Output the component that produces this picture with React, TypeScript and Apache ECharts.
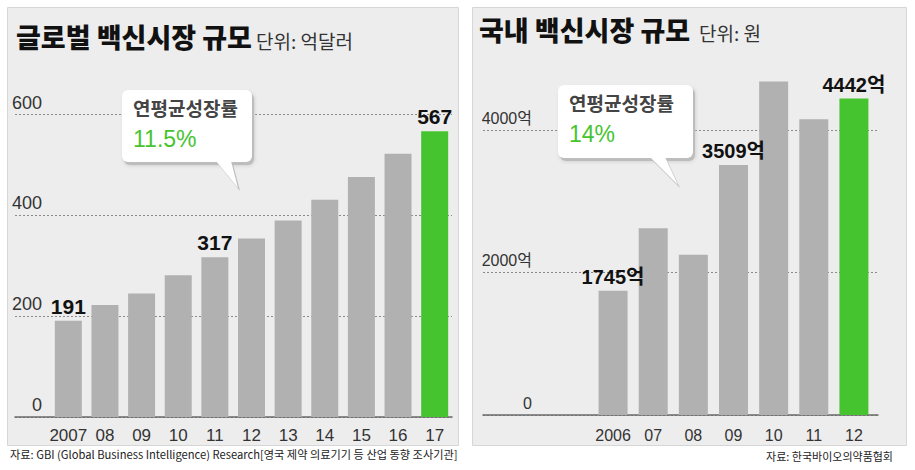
import React, { useEffect, useRef } from "react";
import * as echarts from "echarts";

// ---- data ----
const globalTitle = "글로벌 백신시장 규모";
const globalUnit = "단위: 억달러";
const globalYears = ["2007", "08", "09", "10", "11", "12", "13", "14", "15", "16", "17"];
const globalValues = [191, 222, 245, 281, 317, 354, 390, 431, 476, 522, 567];
const globalLabeled = [0, 4, 10];
const globalTicks = [0, 200, 400, 600];
const globalCagrLabel = "연평균성장률";
const globalCagr = "11.5%";
const globalSource = "자료: GBI (Global Business Intelligence) Research[영국 제약 의료기기 등 산업 동향 조사기관]";

const domesticTitle = "국내 백신시장 규모";
const domesticUnit = "단위: 원";
const domesticYears = ["2006", "07", "08", "09", "10", "11", "12"];
const domesticValues = [1745, 2620, 2250, 3509, 4680, 4150, 4442];
const domesticLabeled = [0, 3, 6];
const domesticTicks = [0, 2000, 4000];
const domesticCagrLabel = "연평균성장률";
const domesticCagr = "14%";
const domesticSource = "자료: 한국바이오의약품협회";

const GRAY = "#b1b1b1";
const GREEN = "#46c42f";
const NUM = "'Liberation Sans', 'Noto Sans CJK KR', sans-serif";
const KR = "'Noto Sans CJK KR', sans-serif";

function barData(values: number[], labeled: number[], suffix: string, size: number) {
  return values.map((v, i) => ({
    value: v,
    itemStyle: { color: i === values.length - 1 ? GREEN : GRAY },
    label: {
      show: labeled.includes(i),
      position: "top",
      distance: 4,
      formatter: () => `${v}${suffix}`,
      color: "#111",
      fontFamily: NUM,
      fontWeight: "bold",
      fontSize: size,
    },
  }));
}

function callout(x: number, y: number, w: number, h: number, tail: number[][], label: string, pct: string) {
  const shifted = tail.map(([a, b]) => [a + 2, b + 3]);
  return {
    type: "group",
    z: 50,
    children: [
      { type: "rect", z: 50, shape: { x: x + 2, y: y + 3, width: w, height: h, r: 6 }, style: { fill: "#bdbdbd", shadowBlur: 4, shadowColor: "#c4c4c4" } },
      { type: "polygon", z: 50, shape: { points: shifted }, style: { fill: "#bdbdbd" } },
      { type: "rect", z: 51, shape: { x, y, width: w, height: h, r: 6 }, style: { fill: "#ffffff" } },
      { type: "polygon", z: 51, shape: { points: tail }, style: { fill: "#ffffff" } },
      { type: "text", z: 52, x: x + 11, y: y + 8, style: { text: label, fill: "#444", font: `bold 19px ${KR}`, textAlign: "left", textVerticalAlign: "top" } },
      { type: "text", z: 52, x: x + 11, y: y + 37, style: { text: pct, fill: GREEN, font: `23px ${NUM}`, textAlign: "left", textVerticalAlign: "top" } },
    ],
  };
}

export default function App() {
  const ref = useRef<HTMLDivElement>(null);
  useEffect(() => {
    if (!ref.current) return;
    const chart = echarts.init(ref.current, undefined, { renderer: "svg" });
    const splitLine = { show: true, lineStyle: { color: "#8a8a8a", type: [2, 2], width: 1 } };
    const hiddenAxis = { show: false };
    const option: any = {
      animation: false,
      backgroundColor: "#ffffff",
      grid: [
        { left: 15, width: 437, top: 114.5, height: 302.5 },
        { left: 50, width: 403, top: 114.5, height: 302.5 },
        { left: 483, width: 395, top: 130, height: 285 },
        { left: 593, width: 281, top: 58.75, height: 356.25 },
      ],
      xAxis: [
        { gridIndex: 0, type: "value", min: 0, max: 1, axisLine: { show: true, lineStyle: { color: "#6a6a6a", width: 1.5 } }, axisTick: { show: false }, axisLabel: { show: false }, splitLine: { show: false } },
        { gridIndex: 1, type: "category", data: globalYears, axisLine: { show: false }, axisTick: { show: false }, axisLabel: { interval: 0, color: "#333", fontFamily: NUM, fontSize: 17, margin: 10 } },
        { gridIndex: 2, type: "value", min: 0, max: 1, axisLine: { show: true, lineStyle: { color: "#6a6a6a", width: 1.5 } }, axisTick: { show: false }, axisLabel: { show: false }, splitLine: { show: false } },
        { gridIndex: 3, type: "category", data: domesticYears, axisLine: { show: false }, axisTick: { show: false }, axisLabel: { interval: 0, color: "#333", fontFamily: NUM, fontSize: 16, margin: 12 } },
      ],
      yAxis: [
        { gridIndex: 0, type: "value", min: globalTicks[0], max: globalTicks[globalTicks.length - 1], interval: globalTicks[1] - globalTicks[0], axisLine: { show: false }, axisTick: { show: false }, splitLine, axisLabel: { inside: true, margin: 27, align: "right", verticalAlign: "bottom", color: "#333", fontFamily: NUM, fontSize: 18, padding: [0, 0, 3, 0] } },
        { gridIndex: 1, type: "value", min: 0, max: 600, ...hiddenAxis },
        { gridIndex: 2, type: "value", min: domesticTicks[0], max: domesticTicks[domesticTicks.length - 1], interval: domesticTicks[1] - domesticTicks[0], axisLine: { show: false }, axisTick: { show: false }, splitLine, axisLabel: { inside: true, margin: 49, align: "right", verticalAlign: "bottom", color: "#333", fontFamily: NUM, fontSize: 16, padding: [0, 0, 4, 0], formatter: (v: number) => (v === 0 ? "0" : `${v}억`) } },
        { gridIndex: 3, type: "value", min: 0, max: 5000, ...hiddenAxis },
      ],
      series: [
        { type: "bar", xAxisIndex: 1, yAxisIndex: 1, barWidth: 27, data: barData(globalValues, globalLabeled, "", 21) },
        { type: "bar", xAxisIndex: 3, yAxisIndex: 3, barWidth: 29, data: barData(domesticValues, domesticLabeled, "억", 20) },
      ],
      graphic: [
        { type: "rect", z: -10, shape: { x: 7.5, y: 7.5, width: 451, height: 438 }, style: { fill: "#ededed", stroke: "#d6d6d6", lineWidth: 1 } },
        { type: "rect", z: -10, shape: { x: 472.5, y: 7.5, width: 434, height: 438 }, style: { fill: "#ededed", stroke: "#d6d6d6", lineWidth: 1 } },
        { type: "text", x: 16, y: 23, style: { text: globalTitle, fill: "#111", font: `900 27px ${KR}`, textAlign: "left", textVerticalAlign: "top" } },
        { type: "text", x: 256, y: 31, style: { text: globalUnit, fill: "#333", font: `19px ${KR}`, textAlign: "left", textVerticalAlign: "top" } },
        { type: "text", x: 479, y: 16, style: { text: domesticTitle, fill: "#111", font: `900 27px ${KR}`, textAlign: "left", textVerticalAlign: "top" } },
        { type: "text", x: 699, y: 23, style: { text: domesticUnit, fill: "#333", font: `19px ${KR}`, textAlign: "left", textVerticalAlign: "top" } },
        { type: "text", x: 10, y: 448, style: { text: globalSource, fill: "#222", font: `11.2px ${KR}`, textAlign: "left", textVerticalAlign: "top" } },
        { type: "text", x: 893, y: 450, style: { text: domesticSource, fill: "#222", font: `11px ${KR}`, textAlign: "right", textVerticalAlign: "top" } },
        callout(122, 90, 130, 72, [[216, 161], [231, 161], [238, 188]], globalCagrLabel, globalCagr),
        callout(558, 85, 135, 73, [[650, 157], [665, 157], [678, 185]], domesticCagrLabel, domesticCagr),
      ],
    };
    chart.setOption(option);
    return () => chart.dispose();
  }, []);
  return <div ref={ref} style={{ position: "absolute", left: 0, top: 0, width: 915, height: 470 }} />;
}
